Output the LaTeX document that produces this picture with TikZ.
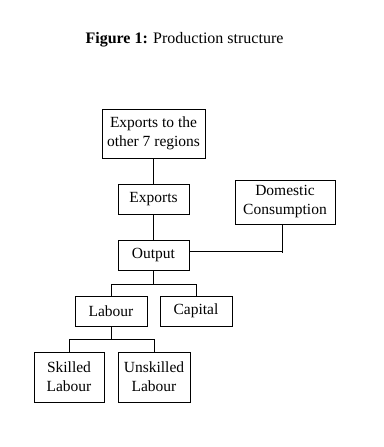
\documentclass[tikz,border=0pt]{standalone}
\usepackage{fontspec}
\setmainfont{Liberation Serif}
\usepackage{tikz}
\usetikzlibrary{positioning, calc}

\begin{document}
\begin{tikzpicture}[x=1pt, y=-1pt,
    box/.style={draw, line width=0.9pt, inner sep=0pt, align=center,
                font=\fontsize{15.5}{19}\selectfont},
    link/.style={line width=0.9pt}]
  \useasboundingbox (0,0) rectangle (383,447);
  \node[font=\fontsize{16}{19}\selectfont] (title) at (184.5, 40) {\textbf{Figure 1:} Production structure};
  % boxes
  \node[box, minimum width=103pt, minimum height=49pt] (exptr) at (153.5, 133.5) {Exports to the\\other 7 regions};
  \node[box, minimum width=71pt, minimum height=30pt] (exports) at (153.5, 199) {Exports};
  \node[box, minimum width=100pt, minimum height=44pt] (domestic) at (285, 202) {Domestic\\Consumption};
  \node[box, minimum width=71pt, minimum height=30pt] (output) at (153.5, 255) {Output};
  \node[box, minimum width=72pt, minimum height=30pt] (labour) at (111, 311) {Labour};
  \node[box, minimum width=72pt, minimum height=30pt] (capital) at (196, 311) {Capital};
  \node[box, minimum width=70pt, minimum height=50pt] (skilled) at (69, 377) {Skilled\\Labour};
  \node[box, minimum width=72pt, minimum height=50pt] (unskilled) at (154, 377) {Unskilled\\Labour};
  % connectors
  \draw[link] (exptr.south) -- (exports.north);
  \draw[link] (exports.south) -- (output.north);
  \draw[link] ([yshift=4pt]output.east) -- ++(93,0);
  \draw[link] ([xshift=-3pt]domestic.south) -- ++(0,29);
  \draw[link] (output.south) -- ++(0,14) coordinate (obar);
  \draw[link] (labour.north) |- (obar) -| (capital.north);
  \draw[link] (labour.south) -- ++(0,13) coordinate (lbar);
  \draw[link] (skilled.north) |- (lbar) -| (unskilled.north);
\end{tikzpicture}
\end{document}
